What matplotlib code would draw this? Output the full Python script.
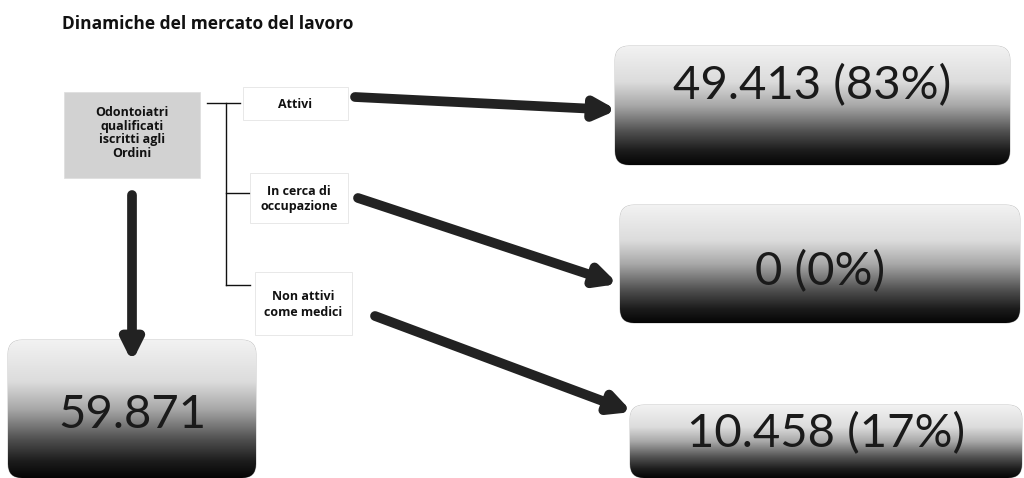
import numpy as np
import matplotlib
matplotlib.use("Agg")
import matplotlib.pyplot as plt
from matplotlib.patches import FancyBboxPatch, Rectangle

title = "Dinamiche del mercato del lavoro"
source_label = "Odontoiatri\nqualificati\niscritti agli\nOrdini"
total_value = "59.871"
categories = ["Attivi", "In cerca di\noccupazione", "Non attivi\ncome medici"]
counts = ["49.413", "0", "10.458"]
shares = ["83%", "0%", "17%"]

W, H = 1024, 478
fig = plt.figure(figsize=(W / 100, H / 100), dpi=100)
ax = fig.add_axes([0, 0, 1, 1])
ax.set_xlim(0, W)
ax.set_ylim(H, 0)
ax.axis("off")
FONT = ["Lato", "DejaVu Sans"]
BFONT = ["Open Sans", "DejaVu Sans"]

ax.text(62, 24, title, fontsize=12.5, fontweight="bold", family=BFONT,
        ha="left", va="center", color="#111111")

# vertical gradient: top light, bottom black
t = np.linspace(0, 1, 256).reshape(-1, 1)
cmap = matplotlib.colors.LinearSegmentedColormap.from_list(
    "g", [(0.0, "#f2f2f2"), (0.3, "#dcdcdc"), (0.5, "#a8a8a8"),
          (0.72, "#505050"), (0.88, "#1c1c1c"), (1.0, "#050505")])


def grad_box(x0, y0, x1, y1, text, fs, ty):
    patch = FancyBboxPatch((x0, y0), x1 - x0, y1 - y0,
                           boxstyle="round,pad=0,rounding_size=14",
                           facecolor="none", edgecolor="#bbbbbb", lw=0.6)
    ax.add_patch(patch)
    im = ax.imshow(t, cmap=cmap, vmin=0, vmax=1, aspect="auto",
                   extent=(x0, x1, y1, y0), interpolation="bilinear", zorder=1)
    im.set_clip_path(patch)
    ax.text((x0 + x1) / 2, ty, text, fontsize=fs,
            family=FONT, ha="center", va="center", color="#1a1a1a", zorder=3)


# source box
ax.add_patch(Rectangle((64, 92), 136, 86, facecolor="#d2d2d2",
                       edgecolor="#dddddd", lw=0.5))
ax.text(132, 133, source_label, fontsize=9, fontweight="bold", family=BFONT,
        ha="center", va="center", color="#111111", linespacing=1.05)

# bracket
ax.plot([207, 240], [103, 103], color="#111111", lw=1)
ax.plot([226, 226], [103, 285], color="#111111", lw=1)
ax.plot([226, 250], [193, 193], color="#111111", lw=1)
ax.plot([226, 250], [285, 285], color="#111111", lw=1)

# label boxes
label_boxes = [(243, 87, 348, 120), (250, 173, 348, 223), (255, 272, 352, 335)]
for (x0, y0, x1, y1), lab in zip(label_boxes, categories):
    ax.add_patch(Rectangle((x0, y0), x1 - x0, y1 - y0, facecolor="white",
                           edgecolor="#e4e4e4", lw=0.6, zorder=2))
    ax.text((x0 + x1) / 2, (y0 + y1) / 2 + 1, lab, fontsize=9, fontweight="bold",
            family=BFONT, ha="center", va="center", color="#111111",
            linespacing=1.2, zorder=3)

# value boxes
value_boxes = [(615, 46, 1010, 165), (620, 205, 1020, 323), (630, 405, 1022, 478)]
text_y = [86, 272, 434]
for (x0, y0, x1, y1), c, s, ty in zip(value_boxes, counts, shares, text_y):
    grad_box(x0, y0, x1, y1, f"{c} ({s})", 34, ty)
grad_box(8, 340, 256, 478, total_value, 34, 415)

# arrows
arrow_kw = dict(arrowstyle="-|>,head_length=1.2,head_width=0.6",
                color="#222222", lw=7, shrinkA=0, shrinkB=0)
arrows = [((355, 97), (617, 110)), ((358, 198), (618, 284)),
          ((375, 316), (632, 412)), ((132, 195), (132, 362))]
for start, end in arrows:
    ax.annotate("", xy=end, xytext=start, arrowprops=arrow_kw, zorder=4)

fig.savefig("out.png", dpi=100, facecolor="white")
